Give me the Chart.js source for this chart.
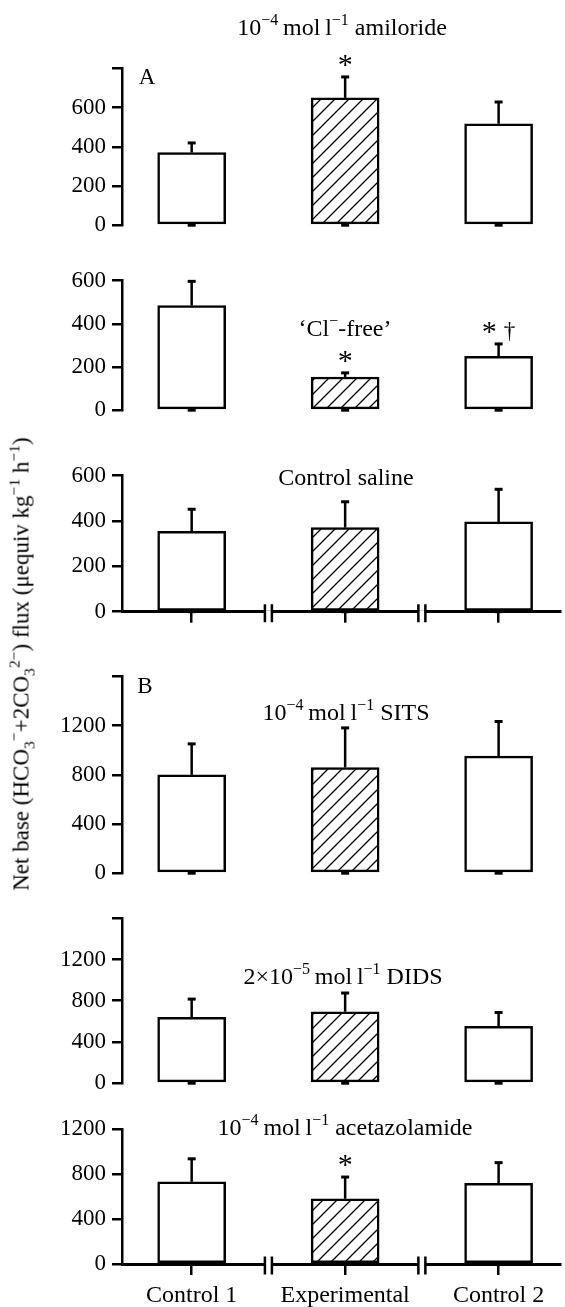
<!DOCTYPE html>
<html>
<head>
<meta charset="utf-8">
<script src="https://cdn.jsdelivr.net/npm/chart.js@4.4.1/dist/chart.umd.min.js"></script>
<style>
  html, body { margin: 0; padding: 0; background: #fff; }
  body { width: 565px; height: 1307px; position: relative; overflow: hidden; font-family: 'Liberation Serif', 'Times New Roman', serif; }
  .panel { position: absolute; left: 0; width: 565px; }
  .panel canvas { display: block; }
  #yTitle { position: absolute; left: 21px; top: 664px; transform: translate(-50%, -50%) rotate(-90deg); white-space: nowrap; font-size: 23px; line-height: 1; z-index: 2; }
  #yTitle sub, #yTitle sup { font-size: 0.68em; line-height: 0; }
</style>
</head>
<body>
<div id="yTitle">Net base (HCO<sub>3</sub><sup>−</sup>+2CO<sub>3</sub><sup>2−</sup>) flux (μequiv kg<sup>−1</sup> h<sup>−1</sup>)</div>
<script>
const FONT = "'Liberation Serif', 'Times New Roman', serif";

const categories = ['Control 1', 'Experimental', 'Control 2'];
const breaks = [1.5, 2.5];

// means and SE (upper error bar only)
const amilorideMean = [371, 650, 518];
const amilorideSE = [49, 107, 111];
const amilorideSig = ['', '*', ''];

const clFreeMean = [485, 154, 250];
const clFreeSE = [112, 19, 57];
const clFreeSig = ['', '*', '* †'];

const salineMean = [355, 371, 396];
const salineSE = [97, 114, 144];
const salineSig = ['', '', ''];

const sitsMean = [800, 860, 952];
const sitsSE = [252, 322, 282];
const sitsSig = ['', '', ''];

const didsMean = [639, 693, 551];
const didsSE = [177, 182, 135];
const didsSig = ['', '', ''];

const acetazolamideMean = [731, 580, 717];
const acetazolamideSE = [204, 193, 184];
const acetazolamideSig = ['', '*', ''];

const axisMax = [800, 600, 600, 1600, 1600, 1200];
const axisStep = [200, 200, 200, 400, 400, 400];

// title pieces: [text, superscript?]
const amilorideTitle = [['10'], ['−4', 1], ['\u2009mol\u2009l'], ['−1', 1], [' amiloride']];
const clFreeTitle = [['‘Cl'], ['−', 1], ['-free’']];
const salineTitle = [['Control saline']];
const sitsTitle = [['10'], ['−4', 1], ['\u2009mol\u2009l'], ['−1', 1], [' SITS']];
const didsTitle = [['2×10'], ['−5', 1], ['\u2009mol\u2009l'], ['−1', 1], [' DIDS']];
const acetazolamideTitle = [['10'], ['−4', 1], ['\u2009mol\u2009l'], ['−1', 1], [' acetazolamide']];

// page layout of each panel (px)
const layout = [
  { top: 0, height: 245, plotTop: 68.5, plotBottom: 231.7, title: [342, 27], letter: ['A', 147, 76], topLabel: false },
  { top: 245, height: 185, plotTop: 280.7, plotBottom: 416, title: [345, 328], topLabel: true },
  { top: 430, height: 205, plotTop: 475.7, plotBottom: 611.7, title: [346, 477], topLabel: true, axis: true },
  { top: 635, height: 258, plotTop: 676.5, plotBottom: 879.5, title: [346, 712], letter: ['B', 145, 685], topLabel: false },
  { top: 893, height: 210, plotTop: 918.3, plotBottom: 1088.3, title: [343, 976], topLabel: false },
  { top: 1103, height: 204, plotTop: 1129, plotBottom: 1264, title: [345, 1127], topLabel: true, axis: true, labels: true }
];

const panels = [
  { mean: amilorideMean, se: amilorideSE, sig: amilorideSig, title: amilorideTitle },
  { mean: clFreeMean, se: clFreeSE, sig: clFreeSig, title: clFreeTitle },
  { mean: salineMean, se: salineSE, sig: salineSig, title: salineTitle },
  { mean: sitsMean, se: sitsSE, sig: sitsSig, title: sitsTitle },
  { mean: didsMean, se: didsSE, sig: didsSig, title: didsTitle },
  { mean: acetazolamideMean, se: acetazolamideSE, sig: acetazolamideSig, title: acetazolamideTitle }
];

function makeHatch(ctx) {
  const s = 14;
  const tile = document.createElement('canvas');
  tile.width = s; tile.height = s;
  const g = tile.getContext('2d');
  g.fillStyle = '#fff';
  g.fillRect(0, 0, s, s);
  g.strokeStyle = '#000';
  g.lineWidth = 1.3;
  g.beginPath();
  g.moveTo(-2, s + 2); g.lineTo(s + 2, -2);
  g.moveTo(-2, 2); g.lineTo(2, -2);
  g.moveTo(s - 2, s + 2); g.lineTo(s + 2, s - 2);
  g.stroke();
  return ctx.createPattern(tile, 'repeat');
}

function drawRuns(ctx, runs, cx, cy, size) {
  const parts = runs.map(([t, sup]) => ({ t, sup, font: (sup ? Math.round(size * 0.68) : size) + 'px ' + FONT }));
  let total = 0;
  parts.forEach(p => { ctx.font = p.font; p.w = ctx.measureText(p.t).width; total += p.w; });
  let x = cx - total / 2;
  const base = cy + size * 0.33;
  ctx.textAlign = 'left';
  ctx.textBaseline = 'alphabetic';
  ctx.fillStyle = '#000';
  parts.forEach(p => {
    ctx.font = p.font;
    ctx.fillText(p.t, x, p.sup ? base - size * 0.4 : base);
    x += p.w;
  });
}

// significance marks: asterisks larger than daggers, set side by side
function drawSig(ctx, text, cx, yErr) {
  const parts = text.split(' ').map(t => ({ t, size: t === '*' ? 30 : 23 }));
  const gap = 7;
  let total = -gap;
  parts.forEach(p => { ctx.font = p.size + 'px ' + FONT; p.w = ctx.measureText(p.t).width; total += p.w + gap; });
  let x = cx - total / 2;
  ctx.textAlign = 'left';
  ctx.textBaseline = 'alphabetic';
  ctx.fillStyle = '#000';
  parts.forEach(p => {
    ctx.font = p.size + 'px ' + FONT;
    ctx.fillText(p.t, x, p.t === '*' ? yErr - 3 : yErr - 6);
    x += p.w + gap;
  });
}

function annotations(p, L) {
  return {
    id: 'annotations',
    afterDatasetsDraw(chart) {
      const ctx = chart.ctx;
      const xs = chart.scales.x, ys = chart.scales.y;
      const y0 = ys.getPixelForValue(0);
      ctx.save();
      ctx.strokeStyle = '#000';
      p.mean.forEach((m, k) => {
        const cx = xs.getPixelForValue(k + 1);
        const yBar = ys.getPixelForValue(m);
        const yErr = ys.getPixelForValue(m + p.se[k]);
        ctx.lineWidth = 2.5;
        ctx.beginPath(); ctx.moveTo(cx, yBar); ctx.lineTo(cx, yErr); ctx.stroke();
        ctx.lineWidth = 3;
        ctx.beginPath(); ctx.moveTo(cx - 4, yErr); ctx.lineTo(cx + 4, yErr); ctx.stroke();
        ctx.beginPath(); ctx.moveTo(cx - 4, y0); ctx.lineTo(cx + 4, y0); ctx.stroke();
        if (p.sig[k]) drawSig(ctx, p.sig[k], cx, yErr);
      });
      ctx.restore();
    },
    afterDraw(chart) {
      const ctx = chart.ctx;
      ctx.save();
      drawRuns(ctx, p.title, L.title[0], L.title[1] - L.top, 24);
      if (L.letter) drawRuns(ctx, [[L.letter[0]]], L.letter[1], L.letter[2] - L.top, 23);
      if (L.axis) {
        // axis breaks
        const yAxis = chart.chartArea.bottom + 1.5;
        breaks.forEach(v => {
          const bx = chart.scales.x.getPixelForValue(v);
          ctx.fillStyle = '#fff';
          ctx.fillRect(bx - 3, yAxis - 3, 6, 6);
          ctx.strokeStyle = '#000';
          ctx.lineWidth = 2.5;
          ctx.beginPath();
          ctx.moveTo(bx - 3.5, yAxis - 9); ctx.lineTo(bx - 3.5, yAxis + 9);
          ctx.moveTo(bx + 3.5, yAxis - 9); ctx.lineTo(bx + 3.5, yAxis + 9);
          ctx.stroke();
        });
      }
      ctx.restore();
    }
  };
}

panels.forEach((p, i) => {
  const L = layout[i];
  const wrap = document.createElement('div');
  wrap.className = 'panel';
  wrap.style.top = L.top + 'px';
  wrap.style.height = L.height + 'px';
  const canvas = document.createElement('canvas');
  canvas.width = 565;
  canvas.height = L.height;
  wrap.appendChild(canvas);
  document.body.appendChild(wrap);
  const ctx = canvas.getContext('2d');
  const hatch = makeHatch(ctx);
  const xAxisHeight = L.top + L.height - L.plotBottom;

  new Chart(ctx, {
    type: 'bar',
    data: {
      datasets: [{
        data: p.mean.map((v, k) => ({ x: k + 1, y: v })),
        backgroundColor: ['#ffffff', hatch, '#ffffff'],
        borderColor: '#000',
        borderWidth: 2.5,
        borderSkipped: false,
        barThickness: 68
      }]
    },
    options: {
      responsive: false,
      animation: false,
      events: [],
      layout: { padding: { top: L.plotTop - L.top, right: 5, left: 0, bottom: 0 } },
      plugins: {
        legend: { display: false },
        title: { display: false },
        tooltip: { enabled: false }
      },
      scales: {
        x: {
          type: 'linear',
          min: 0.546,
          max: 3.4,
          offset: false,
          afterBuildTicks: s => { s.ticks = categories.map((c, k) => ({ value: k + 1 })); },
          afterFit: s => { s.height = xAxisHeight; },
          border: { display: !!L.axis, width: 3, color: '#000' },
          grid: { display: !!L.axis, offset: false, drawOnChartArea: false, tickLength: 11, lineWidth: 2.5, color: '#000' },
          ticks: {
            display: !!L.labels,
            callback: (v, k) => categories[k],
            color: '#000',
            font: { family: FONT, size: 24 },
            padding: 6,
            maxRotation: 0,
            autoSkip: false
          }
        },
        y: {
          min: 0,
          max: axisMax[i],
          afterFit: s => { s.width = 122; },
          border: { width: 2.5, color: '#000' },
          grid: { drawOnChartArea: false, tickLength: 10, lineWidth: 2.5, color: '#000' },
          ticks: {
            stepSize: axisStep[i],
            color: '#000',
            font: { family: FONT, size: 23 },
            padding: 6,
            callback: v => (v === axisMax[i] && !L.topLabel) ? '' : String(v)
          }
        }
      }
    },
    plugins: [annotations(p, L)]
  });
});
</script>
</body>
</html>
